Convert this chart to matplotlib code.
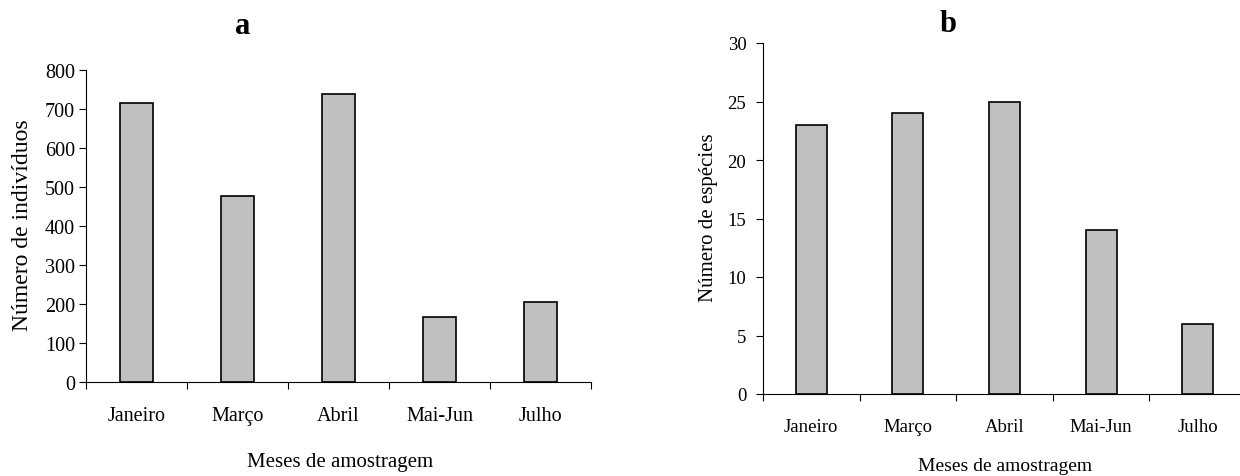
import matplotlib
matplotlib.use("Agg")
import matplotlib.pyplot as plt
import numpy as np

categories = ["Janeiro", "Março", "Abril", "Mai-Jun", "Julho"]
individuos = [715, 476, 738, 167, 205]
especies = [23, 24, 25, 14, 6]
yticks_a = [0, 100, 200, 300, 400, 500, 600, 700, 800]
yticks_b = [0, 5, 10, 15, 20, 25, 30]

plt.rcParams['font.family'] = ['Liberation Serif', 'DejaVu Serif']

W, H = 1240, 477
fig = plt.figure(figsize=(W / 100, H / 100), dpi=100)


def px_axes(x0, x1, ytop, ybot):
    return [x0 / W, 1 - ybot / H, (x1 - x0) / W, (ybot - ytop) / H]


def style(ax, values, yticks, ymax, tick_fs, pad_y):
    x = np.arange(len(categories))
    ax.bar(x, values, width=0.32, color="#c0c0c0", edgecolor="black",
           linewidth=1.2, zorder=3)
    ax.set_xlim(-0.5, len(categories) - 0.5)
    ax.set_ylim(0, ymax)
    ax.set_yticks(yticks)
    ax.set_xticks(x)
    ax.set_xticklabels(categories, fontsize=tick_fs)
    ax.set_xticks(np.arange(len(categories) + 1) - 0.5, minor=True)
    ax.tick_params(axis="x", which="major", length=0, pad=17)
    ax.tick_params(axis="x", which="minor", length=5, width=0.8, direction="out")
    ax.tick_params(axis="y", length=5, width=0.8, direction="out",
                   labelsize=tick_fs, pad=pad_y)
    for s in ["top", "right"]:
        ax.spines[s].set_visible(False)
    for s in ["left", "bottom"]:
        ax.spines[s].set_linewidth(0.8)


# Panel a
ax1 = fig.add_axes(px_axes(86, 591, 71, 383))
style(ax1, individuos, yticks_a, 800, 14.5, 3)
ax1.set_xlabel("Meses de amostragem", fontsize=15, va="center")
ax1.xaxis.set_label_coords((340 - 86) / 505, (383 - 463) / 312)
ax1.set_ylabel("Número de indivíduos", fontsize=17, va="center")
ax1.yaxis.set_label_coords((23 - 86) / 505, (383 - 225) / 312)
fig.text(243 / W, 1 - 27 / H, "a", fontsize=22, fontweight="bold",
         ha="center", va="center")

# Panel b
ax2 = fig.add_axes(px_axes(763, 1246, 44, 395))
style(ax2, especies, yticks_b, 30, 13.5, 7)
ax2.set_xlabel("Meses de amostragem", fontsize=14, va="center")
ax2.xaxis.set_label_coords((1005 - 763) / 483, (395 - 467) / 351)
ax2.set_ylabel("Número de espécies", fontsize=15, va="center")
ax2.yaxis.set_label_coords((709 - 763) / 483, (395 - 218) / 351)
fig.text(948 / W, 1 - 25 / H, "b", fontsize=22, fontweight="bold",
         ha="center", va="center")

fig.savefig("out.png", dpi=100)
